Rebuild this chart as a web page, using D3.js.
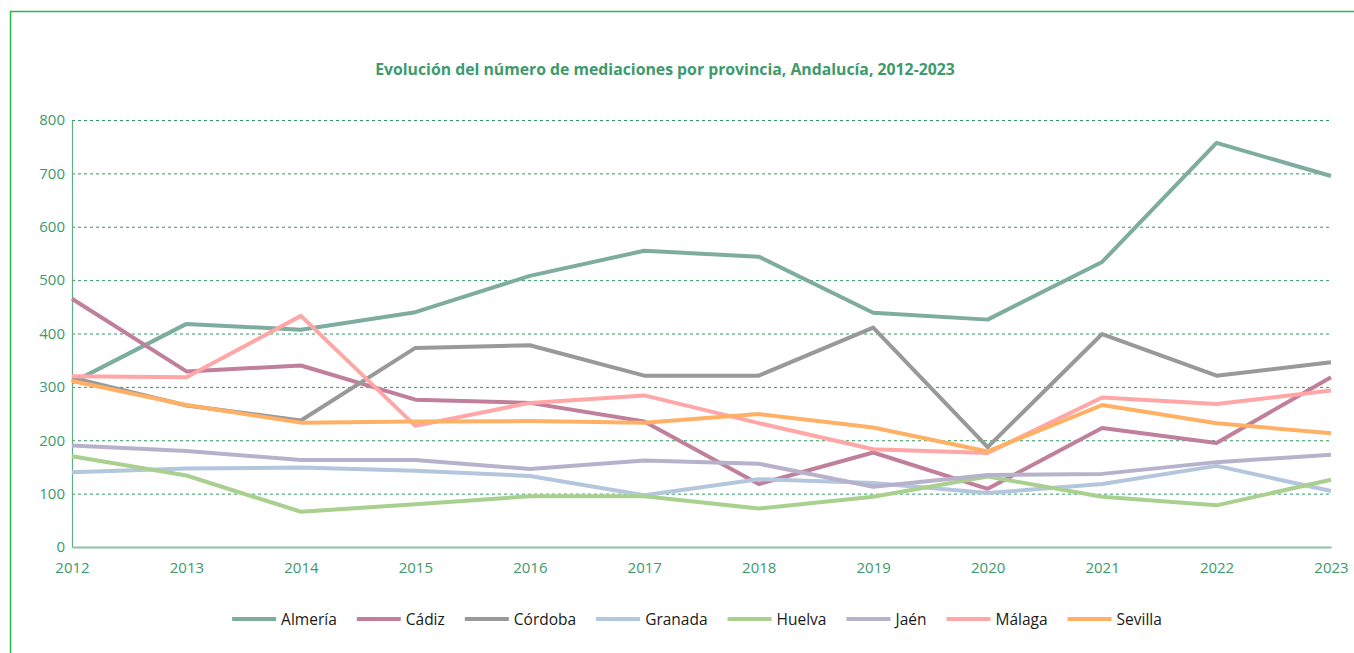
<!DOCTYPE html>
<html>
<head>
<meta charset="utf-8">
<script src="https://cdn.jsdelivr.net/npm/d3@7"></script>
<style>
  body { margin: 0; background: #fff; }
  svg text { font-family: "Open Sans", "Noto Sans", sans-serif; }
</style>
</head>
<body>
<div class="main"></div>
<script>
// Years on the x axis
let years = [2012, 2013, 2014, 2015, 2016, 2017, 2018, 2019, 2020, 2021, 2022, 2023];

// Province names and their colours
let provinces = ["Almería", "Cádiz", "Córdoba", "Granada", "Huelva", "Jaén", "Málaga", "Sevilla"];
let colors = ["#7eac9f", "#c07f9b", "#999999", "#b3c6dd", "#a9d08e", "#b6b2cb", "#ffa7a7", "#ffb065"];

// Values
let almeria = [308, 418, 407, 440, 508, 555, 544, 439, 426, 534, 757, 695];
let cadiz   = [465, 329, 340, 276, 270, 235, 118, 177, 109, 223, 195, 318];
let cordoba = [317, 265, 237, 373, 378, 321, 321, 411, 187, 399, 321, 346];
let granada = [140, 147, 149, 143, 133,  97, 127, 120, 101, 118, 152, 105];
let huelva  = [170, 134,  66,  80,  95,  95,  72,  94, 132,  94,  78, 126];
let jaen    = [190, 180, 163, 163, 146, 162, 156, 113, 135, 137, 159, 173];
let malaga  = [320, 318, 433, 227, 270, 284, 232, 183, 176, 280, 268, 293];
let sevilla = [311, 266, 233, 235, 236, 233, 249, 224, 179, 266, 232, 213];

let series = [almeria, cadiz, cordoba, granada, huelva, jaen, malaga, sevilla];

let yTicks = [0, 100, 200, 300, 400, 500, 600, 700, 800];

let title = "Evolución del número de mediaciones por provincia, Andalucía, 2012-2023";

let width = 1354, height = 653;
let textColor = "#3d9a6b";

let svg = d3.select("div.main").append("svg")
    .attr("width", width)
    .attr("height", height);

// Outer frame (top and left green lines)
svg.append("path")
    .attr("d", "M10.5," + height + "V11.5H" + width)
    .attr("fill", "none")
    .attr("stroke", "#27bb4a")
    .attr("stroke-width", 1.5);

let x = d3.scalePoint().domain(years).range([72, 1331]);
let y = d3.scaleLinear().domain([0, 800]).range([547, 120]);

// Title
svg.append("text")
    .attr("x", 665)
    .attr("y", 75)
    .attr("text-anchor", "middle")
    .attr("font-size", 15.8)
    .attr("font-weight", "bold")
    .attr("fill", textColor)
    .text(title);

// Grid lines
svg.append("g")
    .selectAll("line")
    .data(yTicks.filter(d => d > 0))
    .join("line")
    .attr("x1", x(2012))
    .attr("x2", x(2023))
    .attr("y1", d => y(d) + 0.5)
    .attr("y2", d => y(d) + 0.5)
    .attr("stroke", "#2f9a5e")
    .attr("stroke-width", 1)
    .attr("stroke-dasharray", "3,3");

// Y axis
let yAxis = svg.append("g")
    .attr("transform", "translate(" + x(2012) + ",0)")
    .call(d3.axisLeft(y).tickValues(yTicks).tickSize(0).tickPadding(7));
yAxis.select(".domain").attr("stroke", "#5fae84").attr("stroke-width", 1.2);
yAxis.selectAll("text")
    .attr("font-size", 15)
    .attr("fill", textColor)
    .style("font-family", "'Open Sans', sans-serif");

// X axis
let xAxis = svg.append("g")
    .attr("transform", "translate(0," + y(0) + ")")
    .call(d3.axisBottom(x).tickSize(0).tickPadding(15).tickFormat(d3.format("d")));
xAxis.select(".domain").attr("stroke", "#8cc5a4").attr("stroke-width", 2);
xAxis.selectAll("text")
    .attr("font-size", 15)
    .attr("fill", textColor)
    .style("font-family", "'Open Sans', sans-serif");

// Lines
let line = d3.line()
    .x((d, i) => x(years[i]))
    .y(d => y(d));

svg.append("g")
    .selectAll("path")
    .data(series)
    .join("path")
    .attr("d", line)
    .attr("fill", "none")
    .attr("stroke", (d, i) => colors[i])
    .attr("stroke-width", 4)
    .attr("stroke-linejoin", "round");

// Legend
let legend = svg.append("g");
let items = legend.selectAll("g")
    .data(provinces)
    .join("g");
items.append("line")
    .attr("x1", 0).attr("x2", 44)
    .attr("y1", 0).attr("y2", 0)
    .attr("stroke", (d, i) => colors[i])
    .attr("stroke-width", 4);
items.append("text")
    .attr("x", 49)
    .attr("y", 5.5)
    .attr("font-size", 15.5)
    .attr("fill", "#1a1a1a")
    .text(d => d);

// Place the legend items one after the other
let pos = 0;
items.each(function() {
    let g = d3.select(this);
    g.attr("transform", "translate(" + pos + ",0)");
    pos += 49 + g.select("text").node().getComputedTextLength() + 20;
});
let total = pos - 20;
legend.attr("transform", "translate(" + (697 - total / 2) + ",619)");
</script>
</body>
</html>
